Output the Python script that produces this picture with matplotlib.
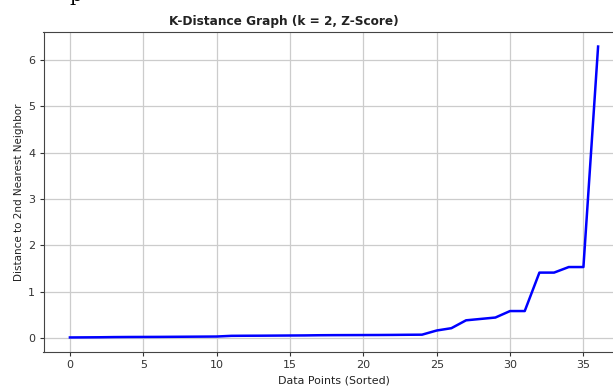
import matplotlib
matplotlib.use("Agg")
import matplotlib.pyplot as plt
import numpy as np

# k-distance values, sorted ascending
k_distances = [
    0.010, 0.012, 0.014, 0.018, 0.020, 0.021, 0.022, 0.024, 0.026, 0.028,
    0.030, 0.045, 0.047, 0.048, 0.050, 0.052, 0.054, 0.058, 0.060, 0.061,
    0.062, 0.063, 0.065, 0.068, 0.070, 0.160, 0.210, 0.380, 0.410, 0.440,
    0.580, 0.580, 1.410, 1.410, 1.530, 1.530, 6.290,
]
x_idx = np.arange(len(k_distances))

plt.rcParams["text.color"] = "#222222"
plt.rcParams["axes.labelcolor"] = "#222222"
plt.rcParams["xtick.color"] = "#333333"
plt.rcParams["ytick.color"] = "#333333"

fig = plt.figure(figsize=(6.13, 3.87), dpi=100)
# axes run past the right edge, as in the cropped screenshot
ax = fig.add_axes([43.5 / 613, 35 / 387, 581 / 613, 320 / 387])

ax.plot(x_idx, k_distances, color="blue", linewidth=1.8)
# title sits left of the axes centre in the reference
ax.set_title("K-Distance Graph (k = 2, Z-Score)", fontsize=8.7, fontweight="bold",
             pad=5, x=(284 - 43.5) / 581)
ax.set_xlabel("Data Points (Sorted)", fontsize=7.9, labelpad=4)
ax.set_ylabel("Distance to 2nd Nearest Neighbor", fontsize=7.5, labelpad=3)
ax.tick_params(labelsize=8, length=3, pad=3)
ax.set_xticks(np.arange(0, 40, 5))
ax.set_yticks(np.arange(0, 7, 1))
ax.grid(True, color="#cccccc", linewidth=0.9)
for s in ax.spines.values():
    s.set_color("#444444")

# fragment of the surrounding page text that shows at the top
fig.text(76 / 613, 1.0 - 1 / 387, "p", family="DejaVu Serif", fontsize=14,
         va="baseline", ha="center", color="black")

fig.savefig("out.png", dpi=100)
